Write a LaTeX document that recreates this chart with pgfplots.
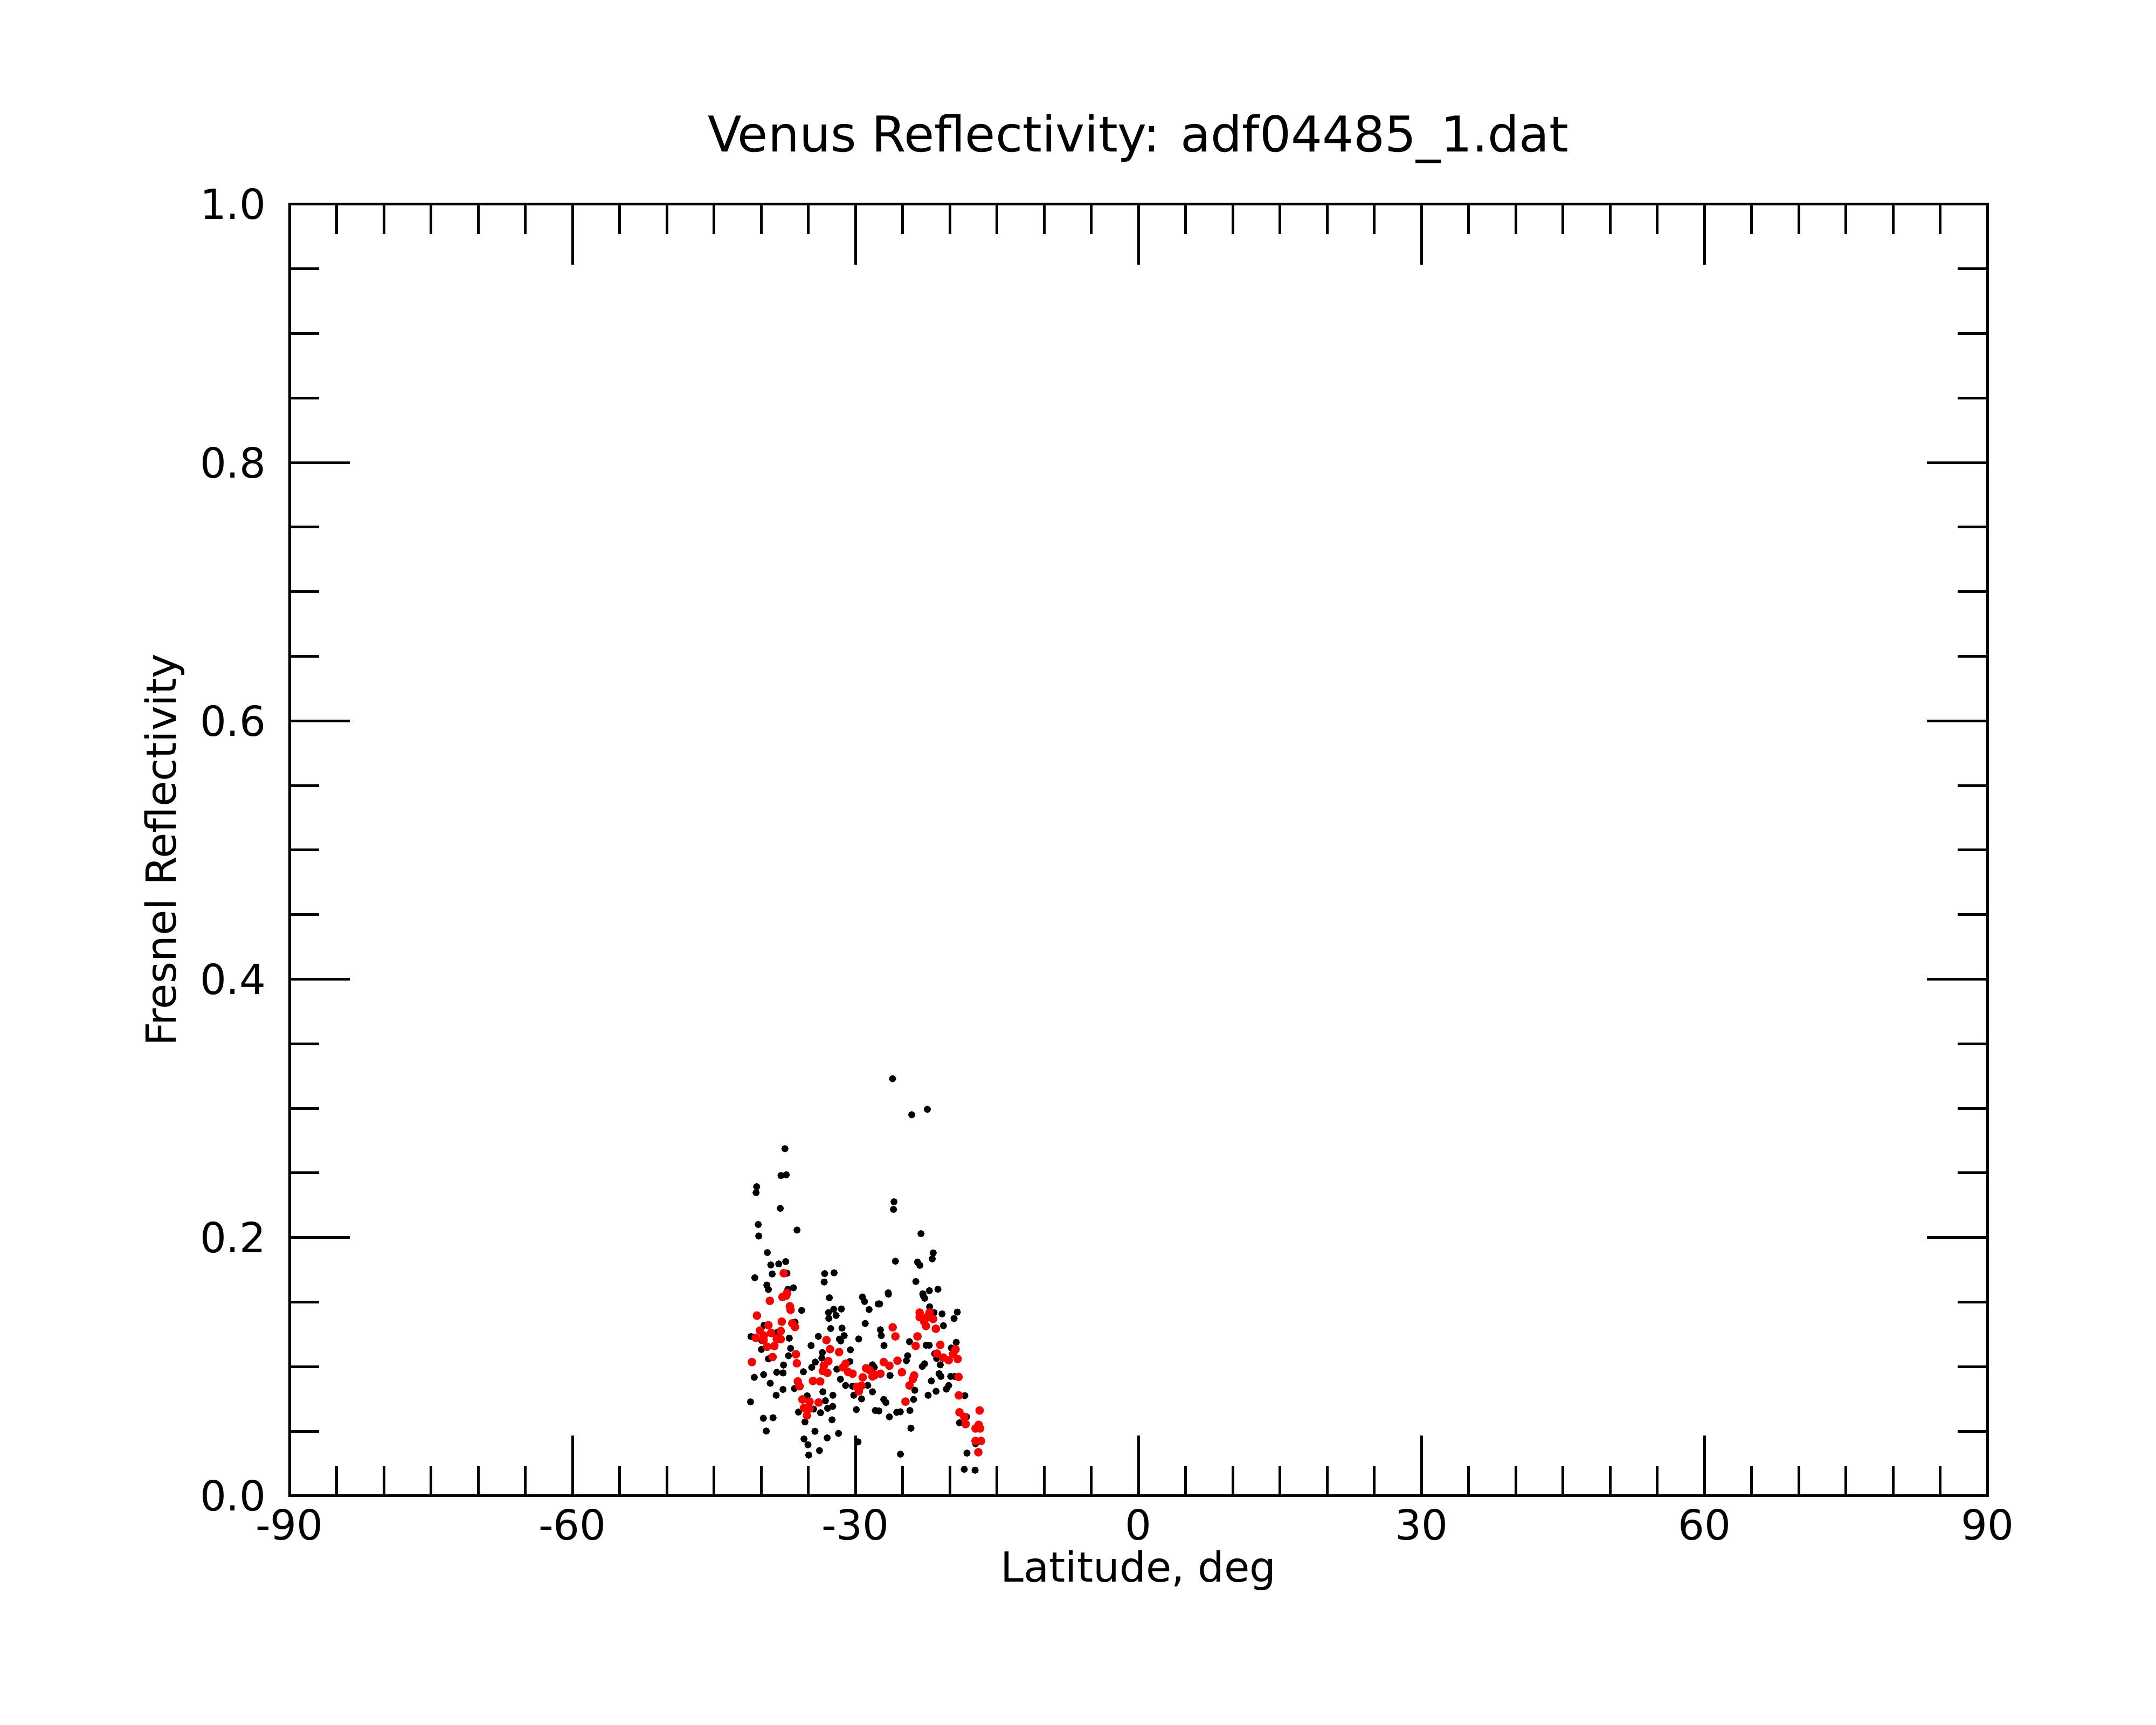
\documentclass[border=0pt]{standalone}
\usepackage{pgfplots}
\pgfplotsset{compat=1.18}
\usepackage{pgfplotstable}
\usepackage{fontspec}
\setmainfont{DejaVu Sans}

\pgfplotstableread{
x y
-37.47 0.2688
-37.89 0.2480
-37.33 0.2486
-40.47 0.2394
-40.53 0.2348
-37.96 0.2226
-40.30 0.2101
-40.25 0.2012
-36.19 0.2058
-39.33 0.1884
-38.97 0.1788
-38.13 0.1796
-37.39 0.1814
-38.82 0.1718
-37.26 0.1724
-33.26 0.1721
-32.26 0.1727
-33.31 0.1656
-40.67 0.1689
-39.39 0.1632
-39.22 0.1598
-37.16 0.1600
-36.57 0.1611
-26.06 0.3230
-24.03 0.2951
-22.37 0.2993
-25.91 0.2277
-25.96 0.2218
-23.05 0.2030
-21.75 0.1881
-21.85 0.1835
-25.76 0.1817
-23.42 0.1810
-23.17 0.1785
-23.59 0.1660
-22.16 0.1589
-21.25 0.1600
-26.52 0.1572
-22.85 0.1565
-32.76 0.1534
-29.26 0.1540
-29.03 0.1505
-27.58 0.1486
-28.55 0.1443
-35.70 0.1436
-32.30 0.1445
-31.49 0.1447
-32.86 0.1419
-32.04 0.1397
-32.82 0.1374
-28.96 0.1335
-36.40 0.1345
-39.68 0.1321
-32.62 0.1296
-31.42 0.1299
-31.19 0.1241
-31.70 0.1213
-31.55 0.1200
-29.65 0.1215
-33.93 0.1235
-37.01 0.1221
-41.07 0.1234
-38.29 0.1266
-39.94 0.1203
-34.70 0.1164
-39.96 0.1134
-36.87 0.1142
-30.53 0.1131
-33.50 0.1110
-33.56 0.1067
-37.09 0.1085
-39.22 0.1061
-34.25 0.1036
-30.59 0.1040
-37.62 0.1013
-34.63 0.0995
-35.51 0.0961
-38.34 0.0957
-37.67 0.0952
-39.73 0.0939
-40.72 0.0918
-31.97 0.0981
-31.59 0.0903
-39.03 0.0872
-31.04 0.0855
-30.31 0.0849
-37.68 0.0824
-36.47 0.0831
-38.40 0.0779
-33.45 0.0806
-32.39 0.0779
-35.11 0.0775
-30.17 0.0779
-29.35 0.0751
-28.69 0.0856
-28.19 0.0806
-33.18 0.0737
-41.12 0.0728
-32.41 0.0693
-32.95 0.0678
-33.70 0.0644
-29.90 0.0668
-27.89 0.0661
-34.44 0.0672
-39.76 0.0601
-38.73 0.0605
-35.35 0.0573
-32.48 0.0589
-39.45 0.0502
-34.29 0.0500
-31.79 0.0484
-35.45 0.0441
-35.03 0.0396
-32.99 0.0449
-33.81 0.0351
-34.95 0.0316
-29.73 0.0418
-36.04 0.0649
-26.50 0.1562
-27.43 0.1486
-22.81 0.1550
-22.66 0.1530
-22.13 0.1464
-21.67 0.1419
-20.81 0.1409
-19.20 0.1423
-19.54 0.1373
-20.67 0.1318
-27.35 0.1286
-27.26 0.1241
-26.97 0.1164
-24.27 0.1194
-22.50 0.1166
-22.17 0.1166
-19.31 0.1189
-19.83 0.1145
-21.60 0.1101
-21.39 0.1064
-24.46 0.1085
-24.59 0.1047
-28.19 0.1015
-28.00 0.0995
-22.67 0.1023
-22.91 0.1002
-21.00 0.1015
-26.33 0.0932
-21.13 0.0946
-20.94 0.0925
-19.90 0.0925
-19.49 0.0925
-21.95 0.0890
-20.11 0.0855
-20.36 0.0827
-23.70 0.0818
-21.45 0.0810
-22.29 0.0779
-18.40 0.0776
-27.00 0.0747
-26.77 0.0723
-23.83 0.0747
-27.51 0.0658
-25.62 0.0647
-25.24 0.0651
-24.22 0.0661
-26.40 0.0612
-18.97 0.0566
-18.21 0.0612
-24.11 0.0524
-17.26 0.0404
-18.17 0.0331
-25.22 0.0323
-18.46 0.0206
-17.31 0.0199
}\blackdata

\pgfplotstableread{
x y
-37.60 0.1724
-37.26 0.1570
-37.33 0.1551
-37.73 0.1540
-39.07 0.1510
-36.95 0.1468
-36.87 0.1440
-40.44 0.1396
-37.81 0.1349
-39.22 0.1321
-36.69 0.1336
-36.40 0.1308
-40.11 0.1280
-38.93 0.1262
-37.92 0.1276
-39.71 0.1241
-40.57 0.1224
-39.73 0.1206
-38.34 0.1217
-37.92 0.1213
-39.35 0.1155
-38.59 0.1161
-33.07 0.1206
-32.69 0.1136
-31.73 0.1113
-36.31 0.1096
-38.78 0.1075
-40.97 0.1036
-36.21 0.1027
-32.87 0.1043
-33.35 0.1008
-31.04 0.1023
-31.33 0.0995
-33.45 0.0967
-32.97 0.0953
-30.78 0.0960
-30.30 0.0946
-28.87 0.0988
-28.02 0.0932
-29.22 0.0918
-36.11 0.0886
-34.50 0.0890
-33.73 0.0886
-35.92 0.0849
-29.83 0.0845
-29.35 0.0853
-29.64 0.0810
-35.62 0.0747
-34.86 0.0730
-33.90 0.0723
-35.46 0.0681
-34.86 0.0675
-35.14 0.0622
-23.19 0.1419
-22.14 0.1419
-23.19 0.1384
-22.43 0.1384
-21.76 0.1370
-22.71 0.1349
-22.52 0.1315
-21.47 0.1294
-26.05 0.1305
-25.76 0.1235
-23.42 0.1235
-23.61 0.1161
-21.00 0.1169
-19.38 0.1134
-21.35 0.1102
-20.69 0.1071
-20.11 0.1050
-19.64 0.1099
-19.16 0.1060
-27.00 0.1036
-26.40 0.1008
-25.54 0.1047
-28.50 0.0974
-27.93 0.0939
-27.35 0.0946
-28.19 0.0925
-25.07 0.0957
-23.77 0.0932
-23.92 0.0904
-24.27 0.0855
-19.07 0.0921
-19.03 0.0778
-24.69 0.0730
-18.97 0.0647
-18.46 0.0612
-18.31 0.0556
-16.83 0.0661
-17.26 0.0522
-16.78 0.0522
-16.93 0.0550
-17.26 0.0425
-16.69 0.0425
-16.97 0.0338
}\reddata

\begin{document}
\begin{tikzpicture}
\begin{axis}[
  at={(0pt,0pt)}, anchor=south west,
  scale only axis,
  width=403.2pt, height=306.69pt,
  xmin=-90, xmax=90, ymin=0, ymax=1,
  xtick={-90,-60,-30,0,30,60,90},
  xticklabels={-90,-60,-30,0,30,60,90},
  minor x tick num=5,
  ytick={0,0.2,0.4,0.6,0.8,1.0},
  yticklabels={0.0,0.2,0.4,0.6,0.8,1.0},
  minor y tick num=3,
  tick align=inside,
  major tick length=14.3pt,
  minor tick length=7pt,
  every tick/.style={black, line width=0.64pt},
  axis line style={black, line width=0.64pt},
  xticklabel style={font=\fontsize{9.85}{12}\selectfont, anchor=north, inner sep=0pt, yshift=-2.94pt},
  yticklabel style={font=\fontsize{9.85}{12}\selectfont, anchor=east, inner sep=0pt, xshift=-5.38pt},
  every axis title shift=0pt,
  title={Venus Reflectivity: adf04485\_1.dat},
  title style={font=\fontsize{11.7}{14}\selectfont, at={(axis description cs:0.5,1)}, anchor=base, inner sep=0pt, yshift=12.42pt},
  xlabel={Latitude, deg},
  xlabel style={font=\fontsize{9.85}{12}\selectfont, at={(axis description cs:0.5,0)}, anchor=base, inner sep=0pt, yshift=-20.48pt},
  ylabel={Fresnel Reflectivity},
  ylabel style={font=\fontsize{9.85}{12}\selectfont, at={(axis description cs:-0.06696,0.5)}, anchor=base, inner sep=0pt},
]
\addplot[only marks, mark=*, mark size=0.64pt, color=black, mark options={draw=none, fill=black}] table[x=x, y=y] {\blackdata};
\addplot[only marks, mark=*, mark size=0.8pt, color=red, mark options={draw=none, fill=red}] table[x=x, y=y] {\reddata};
\end{axis}
\pgfresetboundingbox
\path[use as bounding box] (-68.74pt,-54.4pt) rectangle (443.26pt,355.2pt);
\end{tikzpicture}
\end{document}
